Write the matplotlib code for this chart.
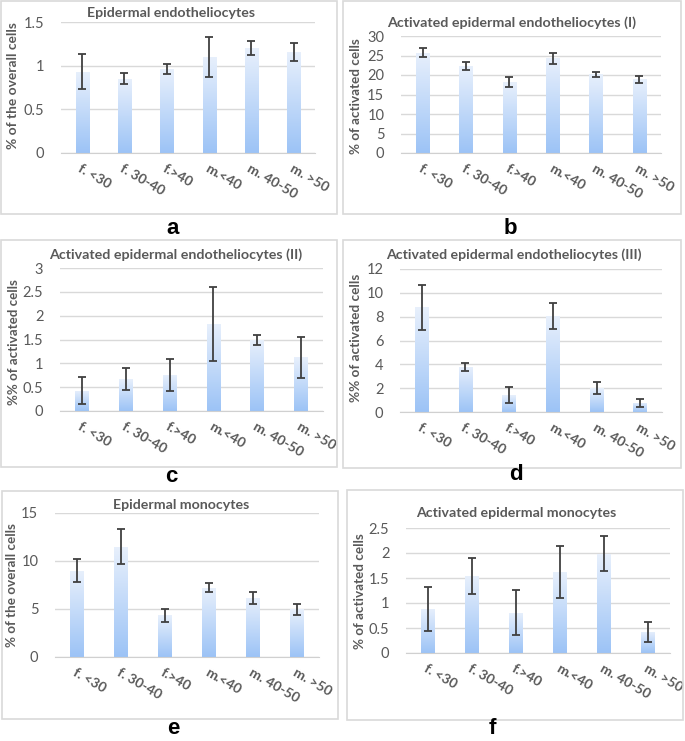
import numpy as np
import matplotlib
matplotlib.use('Agg')
import matplotlib.pyplot as plt
from matplotlib.colors import LinearSegmentedColormap
from matplotlib.patches import Rectangle
from matplotlib.ticker import FuncFormatter

# categories (same for all panels)
groups = ['f. <30', 'f. 30-40', 'f.>40', 'm.<40', 'm. 40-50', 'm. >50']

# panel values: means and error (+/-)
a_mean = [0.93, 0.85, 0.96, 1.10, 1.20, 1.16]
a_err = [0.20, 0.065, 0.06, 0.225, 0.08, 0.105]
b_mean = [25.7, 22.3, 18.2, 24.3, 20.2, 18.9]
b_err = [1.2, 1.1, 1.4, 1.4, 0.6, 0.95]
c_mean = [0.43, 0.67, 0.76, 1.83, 1.49, 1.13]
c_err = [0.29, 0.235, 0.34, 0.78, 0.095, 0.43]
d_mean = [8.78, 3.80, 1.40, 8.05, 2.00, 0.76]
d_err = [1.9, 0.32, 0.67, 1.1, 0.52, 0.32]
e_mean = [9.0, 11.5, 4.33, 7.2, 6.15, 4.98]
e_err = [1.23, 1.85, 0.66, 0.47, 0.58, 0.57]
f_mean = [0.89, 1.55, 0.81, 1.62, 1.99, 0.43]
f_err = [0.44, 0.36, 0.457, 0.52, 0.35, 0.2]

titles = ['Epidermal endotheliocytes',
          'Activated epidermal endotheliocytes (I)',
          'Activated epidermal endotheliocytes (II)',
          'Activated epidermal endotheliocytes (III)',
          'Epidermal monocytes',
          'Activated epidermal monocytes']
ylabels = ['% of the overall cells', '% of activated cells', '%% of activated cells',
           '%% of activated cells', '% of the overall cells', '% of activated cells']
yticks = [np.arange(0, 1.51, 0.5), np.arange(0, 31, 5), np.arange(0, 3.01, 0.5),
          np.arange(0, 13, 2), np.arange(0, 16, 5), np.arange(0, 2.51, 0.5)]
letters = ['a', 'b', 'c', 'd', 'e', 'f']

W, H = 685, 741
plt.rcParams['font.family'] = ['Lato', 'DejaVu Sans']
fig = plt.figure(figsize=(W / 100, H / 100), dpi=100)
renderer = fig.canvas.get_renderer()

def fx(x):
    return x / W

def fy(y):
    return 1 - y / H

def fit(t, target, vertical=False):
    # scale the font so the text spans the target size in pixels
    bb = t.get_window_extent(renderer)
    size = bb.height if vertical else bb.width
    t.set_fontsize(t.get_fontsize() * target / size)

# layout in pixels: box, axes, title (centre x, y, width), ylabel (x, centre y, height), letter
layout = [
    dict(box=(1, 1, 337, 214), ax=(61, 22, 315, 153), tt=(171, 13, 167), yl=(13, 86, 126), let=(173, 229)),
    dict(box=(343, 1, 681, 214), ax=(401, 36, 661, 153), tt=(512, 23, 248), yl=(356, 96, 116), let=(510, 229)),
    dict(box=(1, 240, 337, 467), ax=(60, 268, 323, 411), tt=(176, 255, 252), yl=(14, 342, 126), let=(171, 477)),
    dict(box=(343, 240, 681, 468), ax=(400, 269, 662, 412), tt=(514, 255, 255), yl=(356, 338, 128), let=(516, 474)),
    dict(box=(2, 491, 338, 719), ax=(55, 513, 319, 657), tt=(181, 505, 135), yl=(12, 585, 124), let=(173, 729)),
    dict(box=(347, 490, 683, 720), ax=(406, 528, 670, 653), tt=(516, 513, 198), yl=(360, 591, 116), let=(492, 728)),
]
means = [a_mean, b_mean, c_mean, d_mean, e_mean, f_mean]
errs = [a_err, b_err, c_err, d_err, e_err, f_err]

grad = LinearSegmentedColormap.from_list('g', ['#9cc3f6', '#e8f0fc'])
txt_gray = '#595959'

for i, L in enumerate(layout):
    bx0, by0, bx1, by1 = L['box']
    fig.patches.append(Rectangle((fx(bx0), fy(by1)), fx(bx1 - bx0), (by1 - by0) / H,
                                 transform=fig.transFigure, fill=False,
                                 edgecolor='#d9d9d9', linewidth=1.2))
    x0, y0, x1, y1 = L['ax']
    ax = fig.add_axes([fx(x0), fy(y1), fx(x1 - x0), (y1 - y0) / H])
    xs = np.arange(len(groups))
    bars = ax.bar(xs, means[i], width=0.31, color='none', edgecolor='none', zorder=2)
    g = np.linspace(0, 1, 256).reshape(-1, 1)
    for b in bars:
        im = ax.imshow(g, cmap=grad, origin='lower', aspect='auto', zorder=2,
                       extent=[b.get_x(), b.get_x() + b.get_width(), 0, b.get_height()])
        im.set_clip_path(b)
    ax.errorbar(xs, means[i], yerr=errs[i], fmt='none', ecolor='#404040',
                elinewidth=1.3, capsize=3, capthick=1.3, zorder=3)
    yt = yticks[i]
    ax.set_xlim(-0.5, 5.5)
    ax.set_ylim(0, yt[-1])
    ax.set_yticks(yt)
    ax.yaxis.set_major_formatter(FuncFormatter(lambda v, p: '%g' % v))
    ax.grid(axis='y', color='#d9d9d9', linewidth=1, zorder=0)
    ax.set_axisbelow(True)
    for s in ['top', 'right', 'left']:
        ax.spines[s].set_visible(False)
    ax.spines['bottom'].set_color('#d0d0d0')
    ax.tick_params(axis='y', length=0, labelsize=10.5, labelcolor=txt_gray, pad=12)
    ax.set_xticks(xs)
    ax.set_xticklabels(groups, rotation=-30, ha='left', va='top', rotation_mode='anchor',
                       fontsize=10, fontweight='bold', color=txt_gray)
    ax.tick_params(axis='x', length=0, pad=6.5)
    ax.set_facecolor('none')

    # title, y label, panel letter
    tx, ty, tw = L['tt']
    t = fig.text(fx(tx), fy(ty), titles[i], ha='center', va='center',
                 fontsize=11, fontweight='bold', color=txt_gray)
    fit(t, tw)
    lx, ly, lh = L['yl']
    t = fig.text(fx(lx), fy(ly), ylabels[i], rotation=90, ha='center', va='center',
                 fontsize=11, fontweight='bold', color=txt_gray)
    fit(t, lh, vertical=True)
    fig.text(fx(L['let'][0]), fy(L['let'][1]), letters[i], ha='center', va='center',
             fontsize=16, fontweight='bold', color='black', family='Liberation Sans')

fig.savefig('out.png', dpi=100, facecolor='white')
